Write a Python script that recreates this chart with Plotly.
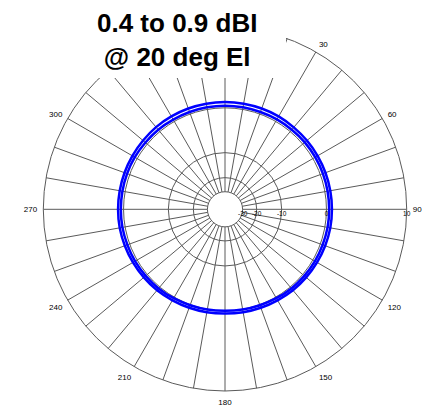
import numpy as np
import plotly.graph_objects as go

# ---- data ----
azimuth = [0, 10, 20, 30, 40, 50, 60, 70, 80, 90, 100, 110, 120, 130, 140, 150, 160, 170,
           180, 190, 200, 210, 220, 230, 240, 250, 260, 270, 280, 290, 300, 310, 320, 330, 340, 350, 360]
gain_outer = [0.95, 0.95, 0.95, 0.95, 0.9, 0.9, 0.9, 0.9, 0.9, 0.9, 0.9, 0.85, 0.8, 0.75, 0.7, 0.6, 0.55, 0.5,
              0.45, 0.5, 0.55, 0.6, 0.7, 0.75, 0.8, 0.85, 0.9, 0.9, 0.9, 0.9, 0.9, 0.9, 0.95, 0.95, 0.95, 0.95, 0.95]
gain_inner = [0.35, 0.35, 0.35, 0.4, 0.4, 0.45, 0.45, 0.45, 0.45, 0.45, 0.45, 0.4, 0.4, 0.35, 0.3, 0.2, 0.1, 0.05,
              0.0, 0.05, 0.1, 0.2, 0.3, 0.35, 0.4, 0.4, 0.45, 0.45, 0.45, 0.45, 0.45, 0.4, 0.4, 0.35, 0.35, 0.35, 0.35]
radial_ticks_db = [-30, -20, -10, 0, 10]
angle_ticks = list(range(0, 360, 10))
angle_labels = ["" if (a % 30 or a == 0) else str(a) for a in angle_ticks]
title_text = "<b>0.4 to 0.9 dBI<br>@ 20 deg El</b>"

# ARRL-style log-periodic radial scale: each 2 dB -> factor 0.89
def scale(db):
    return 0.89 ** (-np.asarray(db, dtype=float) / 2.0)

r_min = float(scale(radial_ticks_db[0])) * 0.995
r_max = float(scale(radial_ticks_db[-1]))

W, H = 429, 407
cx, cy, R = 225.0, 209.3, 181.7

fig = go.Figure()
for g in (gain_outer, gain_inner):
    fig.add_trace(go.Scatterpolar(
        r=scale(g), theta=azimuth, mode="lines",
        line=dict(color="#0000ff", width=2.5, shape="spline"),
        showlegend=False, hoverinfo="skip"))

grid = "#5a5a5a"
fig.update_layout(
    width=W, height=H,
    margin=dict(l=0, r=0, t=0, b=0, autoexpand=False),
    paper_bgcolor="white",
    font=dict(family="Liberation Sans, Arial, sans-serif", color="black"),
    polar=dict(
        domain=dict(x=[(cx - R) / W, (cx + R) / W], y=[1 - (cy + R) / H, 1 - (cy - R) / H]),
        bgcolor="white",
        hole=r_min / r_max,
        angularaxis=dict(
            rotation=90, direction="clockwise",
            tickmode="array", tickvals=angle_ticks, ticktext=angle_labels,
            showline=True, linecolor=grid, linewidth=1,
            showgrid=True, gridcolor=grid, gridwidth=0.8,
            ticks="outside", ticklen=4, tickcolor="rgba(0,0,0,0)",
            tickfont=dict(size=8, color="black"),
        ),
        radialaxis=dict(
            range=[r_min, r_max], angle=0, side="clockwise",
            tickmode="array", tickvals=list(scale(radial_ticks_db)),
            ticktext=[str(v) for v in radial_ticks_db],
            showline=False, showgrid=True, gridcolor=grid, gridwidth=0.8,
            ticks="", tickfont=dict(size=6.5, color="black"),
        ),
    ),
    shapes=[dict(type="rect", xref="paper", yref="paper",
                 x0=0, x1=286 / W, y0=1 - 78 / H, y1=1,
                 fillcolor="white", line=dict(width=0), layer="above")],
    annotations=[dict(text=title_text, xref="paper", yref="paper",
                      x=177 / W, y=1 - 6 / H, xanchor="center", yanchor="top",
                      showarrow=False, font=dict(size=26, color="black",
                                                 family="Liberation Sans, Arial, sans-serif"),
                      align="center")],
)

fig.write_html("out.html", post_script="document.body.style.margin='0';",
               config={"displayModeBar": False})
